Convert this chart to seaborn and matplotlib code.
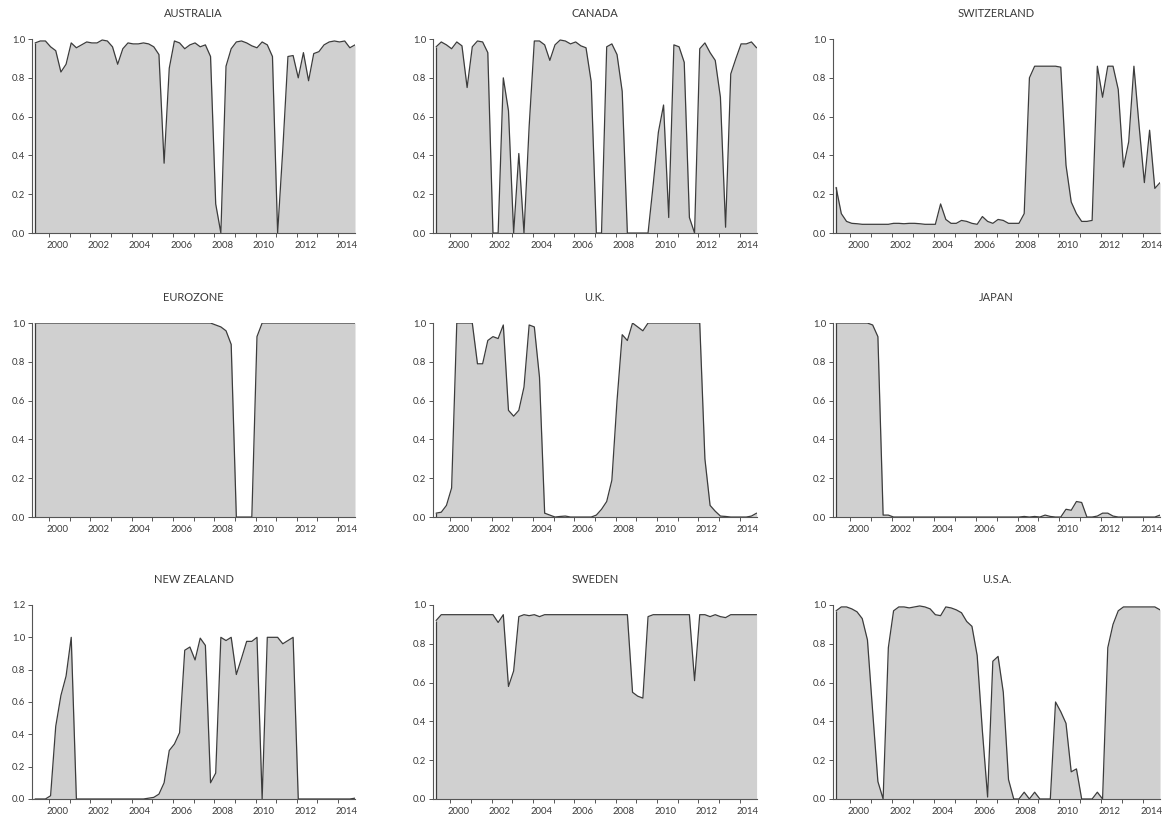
import numpy as np
import pandas as pd
import matplotlib
matplotlib.use("Agg")
import matplotlib.pyplot as plt
import seaborn as sns

# quarterly observations, 1999Q2 - 2014Q4
quarters = pd.period_range("1999Q2", "2014Q4", freq="Q")

australia = [0.98, 0.99, 0.99, 0.96, 0.94, 0.83, 0.87, 0.98, 0.955, 0.97,
             0.985, 0.98, 0.98, 0.995, 0.99, 0.96, 0.87, 0.95, 0.98, 0.975,
             0.975, 0.98, 0.975, 0.96, 0.92, 0.36, 0.85, 0.99, 0.98, 0.95,
             0.97, 0.98, 0.96, 0.97, 0.91, 0.15, 0.0, 0.86, 0.95, 0.985,
             0.99, 0.98, 0.965, 0.955, 0.985, 0.97, 0.91, 0.0, 0.43, 0.91,
             0.915, 0.80, 0.93, 0.785, 0.925, 0.935, 0.97, 0.985, 0.99, 0.985,
             0.99, 0.955, 0.97]
canada = [0.96, 0.985, 0.97, 0.95, 0.985, 0.965, 0.75, 0.96, 0.99, 0.985,
          0.93, 0.0, 0.0, 0.80, 0.63, 0.0, 0.41, 0.0, 0.55, 0.99,
          0.99, 0.97, 0.89, 0.97, 0.995, 0.99, 0.975, 0.985, 0.965, 0.955,
          0.78, 0.0, 0.0, 0.96, 0.975, 0.92, 0.73, 0.0, 0.0, 0.0,
          0.0, 0.0, 0.25, 0.52, 0.66, 0.08, 0.97, 0.96, 0.88, 0.08,
          0.0, 0.95, 0.98, 0.93, 0.89, 0.70, 0.03, 0.82, 0.90, 0.975,
          0.975, 0.985, 0.955]
switzerland = [0.235, 0.10, 0.06, 0.05, 0.048, 0.045, 0.045, 0.045, 0.045, 0.045,
               0.045, 0.05, 0.05, 0.048, 0.05, 0.05, 0.048, 0.045, 0.045, 0.045,
               0.15, 0.07, 0.05, 0.05, 0.065, 0.06, 0.05, 0.045, 0.085, 0.06,
               0.05, 0.07, 0.065, 0.05, 0.05, 0.05, 0.10, 0.80, 0.86, 0.86,
               0.86, 0.86, 0.86, 0.855, 0.35, 0.16, 0.10, 0.06, 0.06, 0.065,
               0.86, 0.70, 0.86, 0.86, 0.74, 0.34, 0.47, 0.86, 0.55, 0.26,
               0.53, 0.23, 0.26]
eurozone = [1.0, 1.0, 1.0, 1.0, 1.0, 1.0, 1.0, 1.0, 1.0, 1.0,
            1.0, 1.0, 1.0, 1.0, 1.0, 1.0, 1.0, 1.0, 1.0, 1.0,
            1.0, 1.0, 1.0, 1.0, 1.0, 1.0, 1.0, 1.0, 1.0, 1.0,
            1.0, 1.0, 1.0, 1.0, 1.0, 0.99, 0.98, 0.96, 0.89, 0.0,
            0.0, 0.0, 0.0, 0.93, 1.0, 1.0, 1.0, 1.0, 1.0, 1.0,
            1.0, 1.0, 1.0, 1.0, 1.0, 1.0, 1.0, 1.0, 1.0, 1.0,
            1.0, 1.0, 1.0]
uk = [0.02, 0.025, 0.06, 0.15, 1.0, 1.0, 1.0, 1.0, 0.79, 0.79,
      0.91, 0.93, 0.92, 0.99, 0.55, 0.52, 0.55, 0.67, 0.99, 0.98,
      0.72, 0.02, 0.01, 0.0, 0.003, 0.005, 0.0, 0.0, 0.0, 0.0,
      0.0, 0.01, 0.04, 0.08, 0.19, 0.6, 0.94, 0.91, 1.0, 0.98,
      0.96, 1.0, 1.0, 1.0, 1.0, 1.0, 1.0, 1.0, 1.0, 1.0,
      1.0, 1.0, 0.30, 0.06, 0.03, 0.005, 0.003, 0.0, 0.0, 0.0,
      0.0, 0.005, 0.02]
japan = [1.0, 1.0, 1.0, 1.0, 1.0, 1.0, 1.0, 0.99, 0.93, 0.01,
         0.01, 0.0, 0.0, 0.0, 0.0, 0.0, 0.0, 0.0, 0.0, 0.0,
         0.0, 0.0, 0.0, 0.0, 0.0, 0.0, 0.0, 0.0, 0.0, 0.0,
         0.0, 0.0, 0.0, 0.0, 0.0, 0.0, 0.003, 0.0, 0.003, 0.0,
         0.01, 0.003, 0.0, 0.0, 0.04, 0.035, 0.08, 0.075, 0.0, 0.0,
         0.005, 0.02, 0.02, 0.005, 0.0, 0.0, 0.0, 0.0, 0.0, 0.0,
         0.0, 0.0, 0.01]
new_zealand = [0.0, 0.0, 0.0, 0.02, 0.45, 0.64, 0.76, 1.0, 0.0, 0.0,
               0.0, 0.0, 0.0, 0.0, 0.0, 0.0, 0.0, 0.0, 0.0, 0.0,
               0.0, 0.0, 0.005, 0.01, 0.03, 0.1, 0.3, 0.34, 0.41, 0.92,
               0.94, 0.86, 0.995, 0.95, 0.10, 0.16, 1.0, 0.98, 1.0, 0.77,
               0.87, 0.975, 0.975, 1.0, 0.0, 1.0, 1.0, 1.0, 0.96, 0.98,
               1.0, 0.0, 0.0, 0.0, 0.0, 0.0, 0.0, 0.0, 0.0, 0.0,
               0.0, 0.0, 0.005]
sweden = [0.92, 0.95, 0.95, 0.95, 0.95, 0.95, 0.95, 0.95, 0.95, 0.95,
          0.95, 0.95, 0.91, 0.95, 0.58, 0.66, 0.94, 0.95, 0.945, 0.95,
          0.94, 0.95, 0.95, 0.95, 0.95, 0.95, 0.95, 0.95, 0.95, 0.95,
          0.95, 0.95, 0.95, 0.95, 0.95, 0.95, 0.95, 0.95, 0.55, 0.53,
          0.52, 0.94, 0.95, 0.95, 0.95, 0.95, 0.95, 0.95, 0.95, 0.95,
          0.61, 0.95, 0.95, 0.94, 0.95, 0.94, 0.935, 0.95, 0.95, 0.95,
          0.95, 0.95, 0.95]
usa = [0.97, 0.99, 0.99, 0.98, 0.965, 0.93, 0.82, 0.45, 0.09, 0.0,
       0.78, 0.97, 0.99, 0.99, 0.985, 0.99, 0.995, 0.99, 0.98, 0.95,
       0.945, 0.99, 0.985, 0.975, 0.96, 0.915, 0.89, 0.74, 0.35, 0.01,
       0.71, 0.735, 0.55, 0.10, 0.0, 0.0, 0.035, 0.0, 0.035, 0.0,
       0.0, 0.0, 0.5, 0.45, 0.39, 0.14, 0.155, 0.0, 0.0, 0.0,
       0.035, 0.0, 0.78, 0.90, 0.97, 0.99, 0.99, 0.99, 0.99, 0.99,
       0.99, 0.99, 0.975]

titles = ["AUSTRALIA", "CANADA", "SWITZERLAND",
          "EUROZONE", "U.K.", "JAPAN",
          "NEW ZEALAND", "SWEDEN", "U.S.A."]
series = [australia, canada, switzerland,
          eurozone, uk, japan,
          new_zealand, sweden, usa]
year_ticks = [2000, 2001, 2002, 2003, 2004, 2005, 2006, 2007,
              2008, 2009, 2010, 2011, 2012, 2013, 2014]
year_labels = ["2000", "2002", "2004", "2006", "2008", "2010", "2012", "2014"]

# position of each quarter on a decimal-year axis
x = quarters.year + (quarters.quarter - 1) / 4 + 0.07

sns.set_style("ticks")
plt.rcParams['font.family'] = ['Lato', 'DejaVu Sans']

fig = plt.figure(figsize=(11.64, 8.22), dpi=100)

lefts = [0.0275, 0.372, 0.7156]
widths = [0.2775, 0.278, 0.281]
bottoms = [0.7165, 0.371, 0.028]
height = 0.236

line_col = '#3c3c3c'
fill_col = '#d0d0d0'
text_col = '#3a3a3a'

for k, (name, vals) in enumerate(zip(titles, series)):
    r, c = divmod(k, 3)
    ax = fig.add_axes([lefts[c], bottoms[r], widths[c], height])
    df = pd.DataFrame({'t': x, 'v': vals})

    ax.fill_between(df['t'], 0, df['v'], color=fill_col, lw=0, zorder=1)
    sns.lineplot(data=df, x='t', y='v', ax=ax, color=line_col, lw=0.9, zorder=2)
    ax.vlines(df['t'].iloc[0], 0, df['v'].iloc[0], color=line_col, lw=0.9, zorder=2)

    ymax = 1.2 if name == "NEW ZEALAND" else 1.0
    ax.set_ylim(0, ymax)
    ax.set_xlim(df['t'].iloc[0] - 0.15, df['t'].iloc[-1])
    ax.set_yticks(np.round(np.arange(0, ymax + 0.01, 0.2), 1))
    ax.yaxis.set_major_formatter(matplotlib.ticker.FormatStrFormatter('%.1f'))

    ax.set_xticks(year_ticks, minor=True)
    ax.set_xticks([int(s) + 0.4 for s in year_labels], year_labels)
    ax.tick_params(axis='x', which='major', length=0, pad=6)
    ax.tick_params(axis='x', which='minor', length=3, width=0.7, color='#555555')
    ax.tick_params(axis='y', length=3, width=0.7, color='#555555', pad=2)
    ax.tick_params(labelsize=6.8, labelcolor=text_col)

    ax.set_xlabel("")
    ax.set_ylabel("")
    ax.set_title(name, fontsize=8, color=text_col, pad=16)
    sns.despine(ax=ax)
    for sp in ['left', 'bottom']:
        ax.spines[sp].set_color('#555555')
        ax.spines[sp].set_linewidth(0.8)

plt.savefig("out.png", dpi=100)
